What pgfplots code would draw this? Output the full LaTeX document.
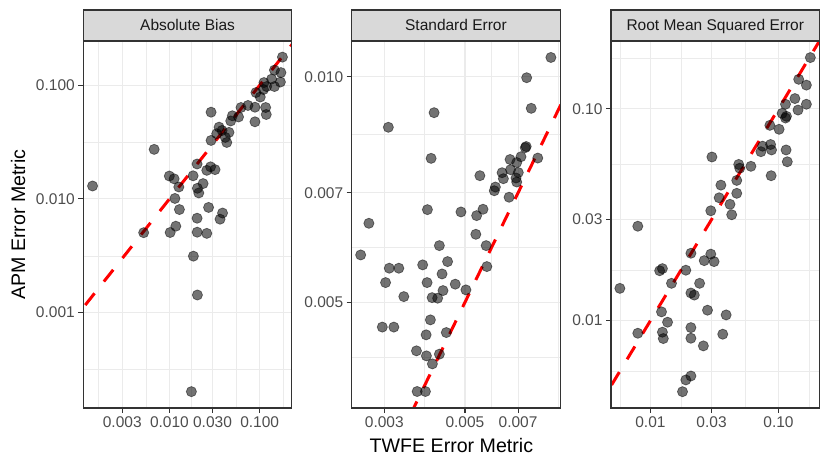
\documentclass[border=0pt]{standalone}
\usepackage{pgfplots}
\pgfplotsset{compat=1.18}
\usepackage{fontspec}
\setmainfont{Liberation Sans}
\definecolor{gridc}{HTML}{EBEBEB}
\definecolor{borderc}{HTML}{333333}
\definecolor{stripc}{HTML}{D9D9D9}
\definecolor{tickc}{HTML}{4D4D4D}
\definecolor{striptext}{HTML}{1A1A1A}
\pgfplotsset{
  mypanel/.style={
    scale only axis, width=208.5bp, height=367bp,
    axis line style={draw=borderc, line width=1.1bp},
    tick align=outside, tick pos=left,
    major tick length=5bp, minor tick length=0pt,
    tick style={draw=borderc, line width=1.1bp},
    grid=both,
    major grid style={draw=gridc, line width=1.1bp},
    minor grid style={draw=gridc, line width=0.55bp},
    ticklabel style={font=\fontsize{15.5bp}{18bp}\selectfont, text=tickc},
  },
  mypts/.style={only marks, mark=*, mark size=5.1bp,
    mark options={fill=black, draw=black, fill opacity=0.55, draw opacity=0.5, line width=0.7bp}},
  myref/.style={red, line width=3bp, dash pattern=on 15bp off 15bp, no marks},
}
\tikzset{
  strip/.style={draw=borderc, fill=stripc, line width=1.1bp},
  striplabel/.style={text=striptext, font=\fontsize{15.5bp}{18bp}\selectfont, anchor=base},
  frame/.style={draw=borderc, line width=1.1bp},
}
\begin{document}
\begin{tikzpicture}
\useasboundingbox (0,0) rectangle (830bp,467bp);
% Panel 1
\begin{axis}[xmode=log, ymode=log, mypanel, at={(83.3bp,59bp)}, anchor=south west,
  xmin=0.00111, xmax=0.227, ymin=0.000145, ymax=0.245,
  xtick={0.003,0.01,0.03,0.1}, xticklabels={0.003,0.010,0.030,0.100},
  ytick={0.001,0.01,0.1}, yticklabels={0.001,0.010,0.100},
  minor xtick={0.001643,0.005477,0.01732,0.05477,0.1826},
  minor ytick={0.0003162,0.003162,0.03162}]
\addplot[myref] coordinates {(0.00001,0.00001) (1,1)};
\addplot[mypts] coordinates {
(0.001406,0.01300) (0.006774,0.02729) (0.02893,0.05797) (0.1788,0.1768)
(0.1458,0.1359) (0.1720,0.1292) (0.1698,0.1067) (0.1357,0.1133)
(0.1458,0.09741) (0.1195,0.0974) (0.1102,0.0917) (0.1015,0.0788)
(0.0910,0.0863) (0.1116,0.1056) (0.1165,0.0637) (0.1183,0.0553)
(0.0887,0.0477) (0.0887,0.0641) (0.0742,0.0664) (0.0621,0.0637)
(0.0498,0.0539) (0.0583,0.0526) (0.0478,0.0485) (0.0355,0.0428)
(0.0383,0.0400) (0.0457,0.0385) (0.0416,0.0348) (0.0432,0.0314)
(0.0334,0.0375) (0.02893,0.0327) (0.02025,0.0203) (0.02857,0.01917)
(0.03202,0.01811) (0.02593,0.01785) (0.01830,0.01598) (0.00997,0.01591)
(0.01127,0.01503) (0.01271,0.01274) (0.02360,0.01365) (0.02041,0.01241)
(0.02115,0.01129) (0.01150,0.01010) (0.01290,0.00807) (0.02715,0.00842)
(0.03878,0.00752) (0.03638,0.00664) (0.02025,0.00677) (0.01177,0.00576)
(0.01018,0.00507) (0.00518,0.00505) (0.0203,0.00510) (0.02593,0.00498)
(0.01843,0.00314) (0.02041,0.00143) (0.01751,0.000202)
};
\end{axis}
% Panel 2
\begin{axis}[xmode=log, ymode=log, mypanel, at={(351.7bp,59bp)}, anchor=south west,
  xmin=0.00244, xmax=0.00914, ymin=0.003614, ymax=0.01116,
  xtick={0.003,0.005,0.007}, xticklabels={0.003,0.005,0.007},
  ytick={0.005,0.007,0.01}, yticklabels={0.005,0.007,0.010},
  minor xtick={0.003873,0.005916,0.009037},
  minor ytick={0.004226,0.005916,0.008367}]
\addplot[myref] coordinates {(0.0001,0.0001) (1,1)};
\addplot[mypts] coordinates {
(0.008618,0.01061) (0.007392,0.00997) (0.007609,0.009075) (0.004112,0.008954)
(0.003078,0.008562) (0.007328,0.008042) (0.00737,0.00807) (0.004035,0.007783)
(0.006653,0.007755) (0.006941,0.007684) (0.007130,0.007822) (0.007931,0.007790)
(0.006326,0.007447) (0.006675,0.007516) (0.007010,0.007451) (0.006378,0.007311)
(0.006909,0.007327) (0.006941,0.007237) (0.005496,0.007379) (0.006063,0.007126)
(0.006021,0.007045) (0.006612,0.006907) (0.003942,0.006648) (0.004875,0.006601)
(0.005384,0.006527) (0.005606,0.006656) (0.002721,0.006375) (0.005357,0.006163)
(0.005719,0.005952) (0.004252,0.005952) (0.002583,0.005784) (0.004479,0.005667)
(0.003826,0.005610) (0.003096,0.005553) (0.003289,0.005553) (0.005744,0.005581)
(0.004325,0.005456) (0.003024,0.005313) (0.003934,0.005313) (0.004702,0.005287)
(0.005031,0.005195) (0.004351,0.005184) (0.003395,0.005089) (0.004061,0.005073)
(0.004206,0.005064) (0.004017,0.004738) (0.002962,0.004634) (0.003187,0.004634)
(0.004443,0.004557) (0.003910,0.004525) (0.003678,0.004308) (0.003917,0.004242)
(0.004252,0.004264) (0.004068,0.004139) (0.003694,0.003802) (0.003893,0.003802)
};
\end{axis}
% Panel 3
\begin{axis}[xmode=log, ymode=log, mypanel, at={(611bp,59bp)}, anchor=south west,
  xmin=0.00492, xmax=0.209, ymin=0.00387, ymax=0.2088,
  xtick={0.01,0.03,0.1}, xticklabels={0.01,0.03,0.10},
  ytick={0.01,0.03,0.1}, yticklabels={0.01,0.03,0.10},
  minor xtick={0.005774,0.01732,0.05477,0.1732},
  minor ytick={0.005774,0.01732,0.05477,0.1732}]
\addplot[myref] coordinates {(0.0001,0.0001) (1,1)};
\addplot[mypts] coordinates {
(0.1773,0.1744) (0.1438,0.1377) (0.1651,0.1293) (0.1343,0.1117)
(0.1651,0.1050) (0.1134,0.1050) (0.1420,0.0986) (0.1067,0.0951)
(0.1154,0.0921) (0.1134,0.0904) (0.0856,0.0835) (0.1011,0.0800)
(0.0751,0.0666) (0.0729,0.0627) (0.0867,0.0678) (0.0882,0.0639)
(0.1146,0.0639) (0.1171,0.0562) (0.0876,0.0483) (0.0609,0.0535)
(0.0489,0.0546) (0.0498,0.0524) (0.0302,0.0592) (0.0472,0.0459)
(0.0355,0.0436) (0.0344,0.0380) (0.0472,0.0399) (0.0418,0.0354)
(0.0431,0.0316) (0.0296,0.0330) (0.00797,0.0279) (0.0207,0.0208)
(0.0296,0.0206) (0.0263,0.0192) (0.0314,0.0190) (0.0118,0.0172)
(0.0124,0.0176) (0.0189,0.0173) (0.00577,0.0142) (0.0146,0.0150)
(0.0242,0.0150) (0.0207,0.0135) (0.0220,0.0132) (0.0122,0.0110)
(0.0279,0.0112) (0.0390,0.01064) (0.0136,0.00983) (0.0124,0.00882)
(0.0126,0.00823) (0.00797,0.00872) (0.0207,0.00927) (0.0207,0.00826)
(0.0367,0.00863) (0.0259,0.00760) (0.0207,0.00548) (0.0189,0.00525)
(0.0178,0.00462)
};
\end{axis}
% panel frames and strips
\path[frame] (83.3bp,59bp) rectangle (291.8bp,426bp);
\path[frame] (351.7bp,59bp) rectangle (560.2bp,426bp);
\path[frame] (611bp,59bp) rectangle (819.5bp,426bp);
\path[strip] (83.3bp,426bp) rectangle (291.8bp,457bp);
\path[strip] (351.7bp,426bp) rectangle (560.2bp,457bp);
\path[strip] (611bp,426bp) rectangle (819.5bp,457bp);
\node[striplabel] at (187.55bp,436bp) {Absolute Bias};
\node[striplabel] at (455.95bp,436bp) {Standard Error};
\node[striplabel] at (715.25bp,436bp) {Root Mean Squared Error};
\node[anchor=base, font=\fontsize{19.6bp}{22bp}\selectfont] at (451.4bp,14.7bp) {TWFE Error Metric};
\node[anchor=base, rotate=90, font=\fontsize{19.6bp}{22bp}\selectfont] at (25bp,242.5bp) {APM Error Metric};
\end{tikzpicture}
\end{document}
